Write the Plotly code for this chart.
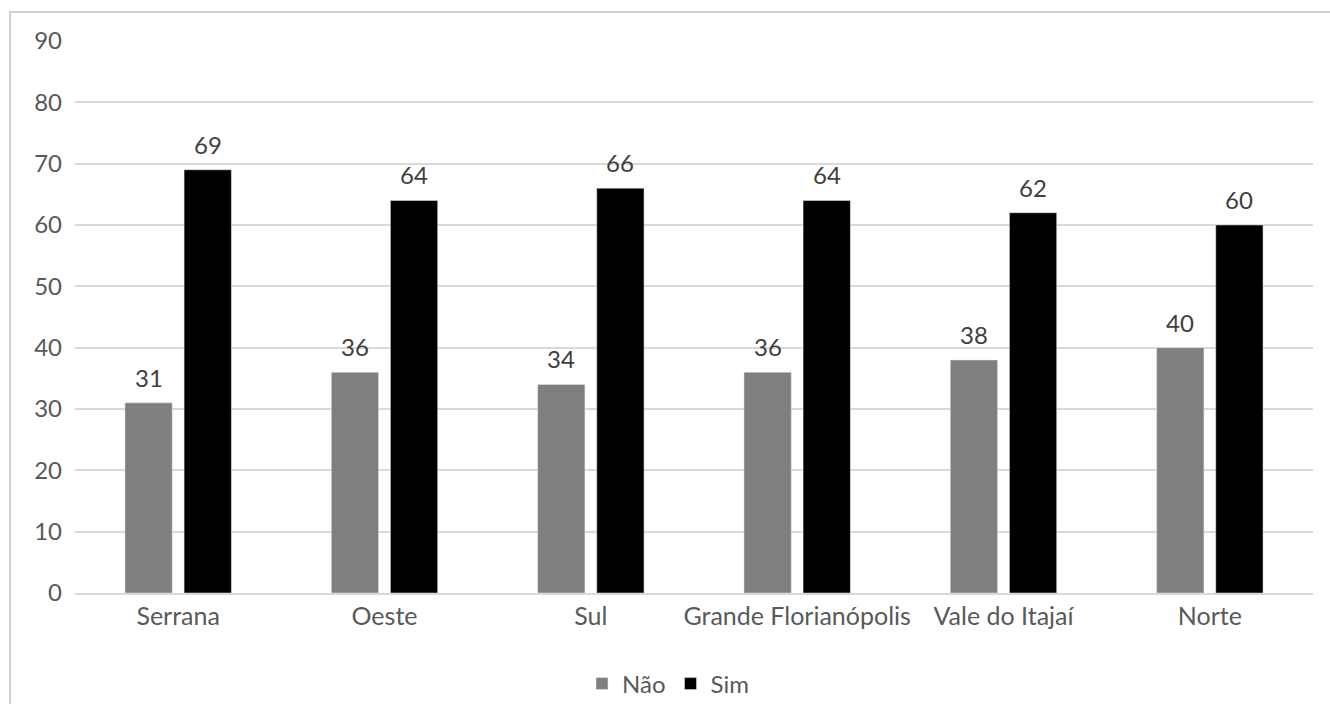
import plotly.graph_objects as go

regioes = ["Serrana", "Oeste", "Sul", "Grande Florianópolis", "Vale do Itajaí", "Norte"]
nao = [31, 36, 34, 36, 38, 40]
sim = [69, 64, 66, 64, 62, 60]

FONT = "Lato, 'Open Sans', sans-serif"
BARGAP = 0.427
TICK_COLOR = "#595959"
LABEL_COLOR = "#404040"

fig = go.Figure()
fig.add_trace(go.Bar(name="Não", x=regioes, y=nao, marker_color="#7f7f7f"))
fig.add_trace(go.Bar(name="Sim", x=regioes, y=sim, marker_color="#000000"))

# value labels above each bar (group centre ± a quarter of the group width)
offset = (1 - BARGAP) / 4
for i, (n, s) in enumerate(zip(nao, sim)):
    for xpos, val in ((i - offset, n), (i + offset, s)):
        fig.add_annotation(x=xpos, y=val, text=str(val), showarrow=False,
                           yanchor="bottom", yshift=9,
                           font=dict(family=FONT, size=24, color=LABEL_COLOR))

# light frame around the chart
fig.add_shape(type="rect", xref="paper", yref="paper",
              x0=-0.0525, x1=1.02, y0=-0.25, y1=1.0525,
              line=dict(color="#d0d0d0", width=2), fillcolor="rgba(0,0,0,0)", layer="below")

fig.update_layout(
    width=1330, height=704,
    margin=dict(l=75, r=17, t=41, b=111, autoexpand=False),
    paper_bgcolor="white", plot_bgcolor="white",
    barmode="group", bargap=BARGAP, bargroupgap=0.2,
    font=dict(family=FONT, size=24, color=TICK_COLOR),
    showlegend=True,
    legend=dict(orientation="h", x=0.479, xanchor="center",
                yref="container", y=20 / 704, yanchor="middle",
                font=dict(family=FONT, size=24, color=TICK_COLOR),
                itemwidth=30, traceorder="normal"),
    xaxis=dict(showgrid=False, showline=True, linecolor="#d9d9d9", linewidth=2,
               ticks="", ticklabelstandoff=0,
               tickfont=dict(family=FONT, size=25, color=TICK_COLOR)),
    yaxis=dict(range=[0, 90], dtick=10, showgrid=True, gridcolor="#d9d9d9", gridwidth=2,
               zeroline=False, showline=False, ticks="", ticklabelstandoff=12,
               tickfont=dict(family=FONT, size=24, color=TICK_COLOR)),
)

fig.write_html("out.html")
